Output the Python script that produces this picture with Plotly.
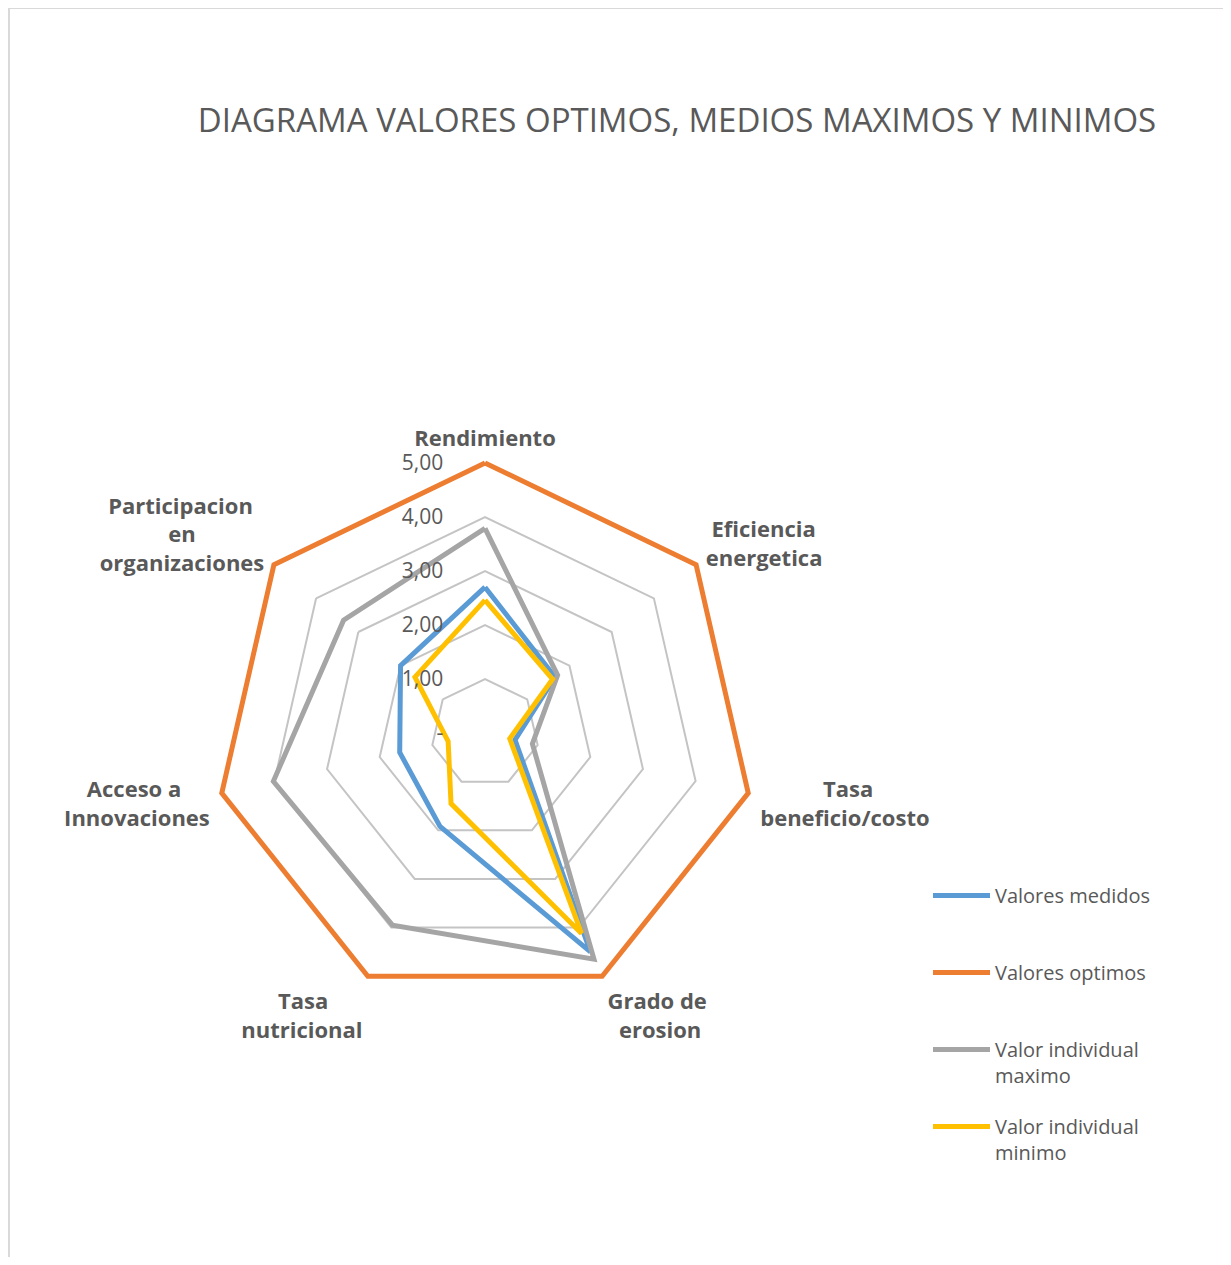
import plotly.graph_objects as go

NB = "\u00a0"
categories = ["Rendimiento",
              NB + "Eficiencia<br>energetica",
              NB * 11 + "Tasa<br>beneficio/costo",
              "Grado de<br>" + NB * 2 + "erosion",
              "Tasa" + NB * 6 + "<br>nutricional",
              "Acceso a" + NB * 5 + "<br>Innovaciones",
              "Participacion" + NB * 2 + "<br>en" + NB * 12 + "<br>organizaciones"]
valores_medidos = [2.70, 1.66, 0.57, 4.50, 1.92, 1.62, 2.00]
valores_optimos = [5.00, 5.00, 5.00, 5.00, 5.00, 5.00, 5.00]
valor_maximo = [3.79, 1.72, 0.90, 4.65, 3.95, 4.02, 3.35]
valor_minimo = [2.46, 1.60, 0.47, 4.12, 1.45, 0.70, 1.66]
series_names = ["Valores medidos", "Valores optimos", "Valor individual<br>maximo", "Valor individual<br>minimo"]
series_colors = ["#5B9BD5", "#ED7D31", "#A5A5A5", "#FFC000"]
radial_ticks = [0, 1, 2, 3, 4, 5]
radial_ticktext = ["-", "1,00", "2,00", "3,00", "4,00", "5,00"]

FONT = "Open Sans"
TXT = "#595959"
OFF = 8  # page body margin
W, H = 1231 - 2 * OFF, 1265 - 2 * OFF


def px(x):
    return (x - OFF) / W


def py(y):
    return 1 - (y - OFF) / H


fig = go.Figure()
all_series = [valores_medidos, valores_optimos, valor_maximo, valor_minimo]
legend_ids = ["legend", "legend2", "legend3", "legend4"]
for vals, name, col, lg in zip(all_series, series_names, series_colors, legend_ids):
    fig.add_trace(go.Scatterpolar(
        r=vals + vals[:1], theta=categories + categories[:1], mode="lines",
        name=name, line=dict(color=col, width=5), legend=lg, cliponaxis=False,
        showlegend=True,
    ))

RMAX = 5.1
cx, cy = 485, 733
R = 270 * RMAX / 5
polar = dict(
    domain=dict(x=[px(cx - R), px(cx + R)], y=[py(cy + R), py(cy - R)]),
    bgcolor="white",
    gridshape="linear",
    radialaxis=dict(range=[0, RMAX], tickvals=radial_ticks, ticktext=radial_ticktext,
                    angle=90, side="counterclockwise", showline=False,
                    ticks="outside", ticklen=34, tickcolor="rgba(0,0,0,0)",
                    tickangle=90,
                    gridcolor="#c4c4c4", gridwidth=1.6,
                    tickfont=dict(family=FONT, size=21, color=TXT)),
    angularaxis=dict(direction="clockwise", rotation=90, showgrid=False, showline=False,
                     ticks="outside", ticklen=2, tickcolor="rgba(0,0,0,0)",
                     tickfont=dict(family=FONT, size=22, color=TXT, weight="bold")),
)

legend_y = [896, 973, 1050, 1127]
legends = {}
for lg, yy in zip(legend_ids, legend_y):
    legends[lg] = dict(x=px(928), y=py(yy - 20), xanchor="left", yanchor="top",
                       font=dict(family=FONT, size=20, color=TXT), bgcolor="rgba(0,0,0,0)",
                       itemwidth=57, valign="top")

fig.update_layout(
    width=W, height=H, margin=dict(l=0, r=0, t=0, b=0),
    paper_bgcolor="white", plot_bgcolor="white",
    showlegend=True,
    polar=polar,
    title=dict(text="DIAGRAMA VALORES OPTIMOS, MEDIOS MAXIMOS Y MINIMOS",
               x=px(677), xanchor="center", y=py(120), yanchor="middle",
               font=dict(family=FONT, size=33, color=TXT)),
    shapes=[
        dict(type="line", xref="paper", yref="paper", x0=0, x1=1, y0=1, y1=1,
             line=dict(color="#d9d9d9", width=2)),
        dict(type="line", xref="paper", yref="paper", x0=0.0008, x1=0.0008, y0=0, y1=1,
             line=dict(color="#d9d9d9", width=2)),
    ],
    **legends,
)

fig.write_html("out.html")
